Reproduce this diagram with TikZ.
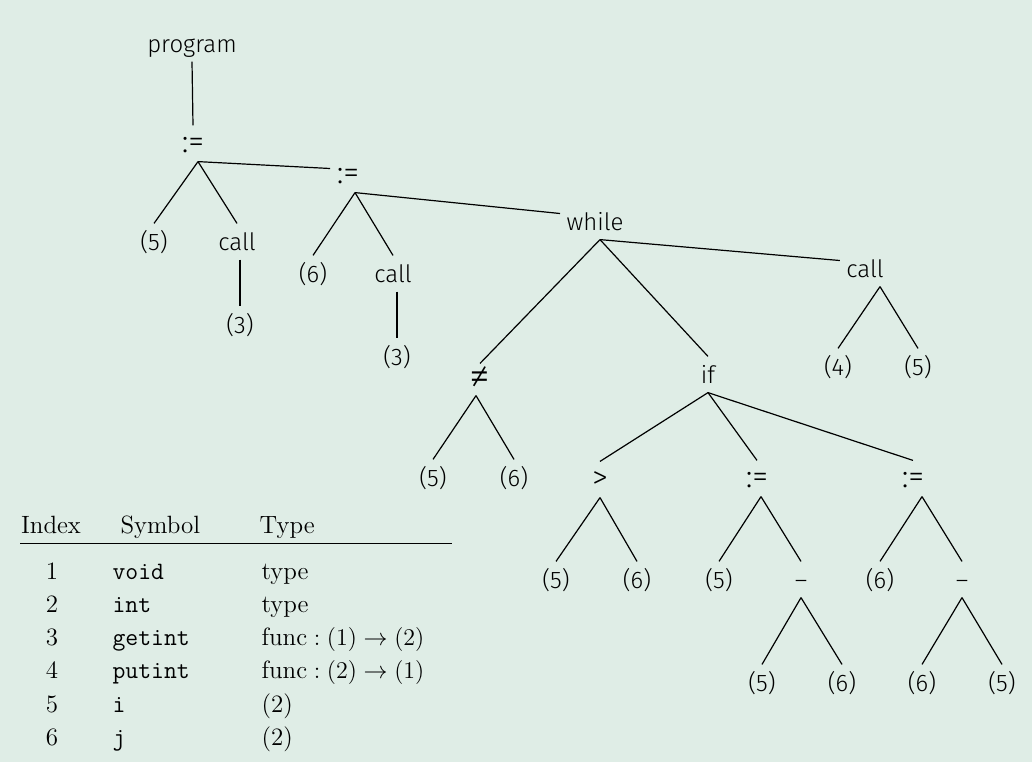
\documentclass[tikz,border=0pt]{standalone}
\usepackage{fontspec}
\newfontfamily\treefont{Fira Sans Light}
\definecolor{panel}{RGB}{223,237,230}

\begin{document}
\begin{tikzpicture}[x=0.5pt,y=-0.5pt,
    line width=0.6pt,
    every node/.append style={anchor=base},
    tn/.style={font=\treefont\fontsize{12}{14}\selectfont,
        text height=10pt,text depth=1.5pt,inner sep=3pt},
    op/.style={tn,font=\treefont\fontsize{16}{18}\selectfont},
    tab/.style={font=\fontsize{12.5}{15}\selectfont,inner sep=0pt}]
    \fill[panel] (0,0) rectangle (1032,762);

    % syntax tree
    \node[tn] (prog) at (192,52) {program};
    \node[op] (asgA) at (193,152) {:=};
    \node[tn] (fiveA) at (154,250) {(5)};
    \node[tn] (callA) at (237,250) {call};
    \node[tn] (threeA) at (240,333) {(3)};
    \node[op] (asgB) at (348,183) {:=};
    \node[tn] (sixA) at (313,282) {(6)};
    \node[tn] (callB) at (393,282) {call};
    \node[tn] (threeB) at (397,365) {(3)};
    \node[tn] (loop) at (595,230) {while};
    \node[op,font=\treefont\fontsize{21}{23}\selectfont] (neq) at (480,390) {≠};
    \node[tn] (fiveC) at (433,486) {(5)};
    \node[tn] (sixC) at (514,486) {(6)};
    \node[tn] (cond) at (708,383) {if};
    \node[op] (gt) at (600,488) {>};
    \node[tn] (fiveD) at (556,588) {(5)};
    \node[tn] (sixD) at (637,588) {(6)};
    \node[op] (asgM) at (757,487) {:=};
    \node[tn] (fiveE) at (719,588) {(5)};
    \node[tn] (subM) at (801,588) {\textendash};
    \node[tn] (fiveF) at (762,691) {(5)};
    \node[tn] (sixF) at (842,691) {(6)};
    \node[op] (asgR) at (913,487) {:=};
    \node[tn] (sixE) at (880,588) {(6)};
    \node[tn] (subR) at (962,588) {\textendash};
    \node[tn] (sixG) at (922,691) {(6)};
    \node[tn] (fiveG) at (1002,691) {(5)};
    \node[tn] (callR) at (865,277) {call};
    \node[tn] (four) at (838,375) {(4)};
    \node[tn] (fiveB) at (918,375) {(5)};

    % branch points
    \coordinate (asgA-b) at ([xshift=2.5pt]asgA.south);
    \coordinate (asgB-b) at ([xshift=3.5pt]asgB.south);
    \coordinate (loop-b) at ([xshift=2.5pt]loop.south);
    \coordinate (callR-b) at ([xshift=7.5pt]callR.south);
    \coordinate (neq-b) at ([xshift=-2pt,yshift=2pt]neq.south);
    \coordinate (asgM-b) at ([xshift=2pt]asgM.south);
    \coordinate (asgR-b) at ([xshift=4.5pt]asgR.south);

    \draw (prog.south) -- (asgA.north);
    \draw (asgA-b) -- (fiveA.north);
    \draw (asgA-b) -- (callA.north);
    \draw (threeA.north |- callA.south) -- (threeA.north);
    \draw (asgB-b) -- (sixA.north);
    \draw (asgB-b) -- (callB.north);
    \draw (threeB.north |- callB.south) -- (threeB.north);
    \draw (loop-b) -- (neq.north);
    \draw (loop-b) -- (cond.north);
    \draw (neq-b) -- (fiveC.north);
    \draw (neq-b) -- (sixC.north);
    \draw (cond.south) -- (gt.north);
    \draw (cond.south) -- (asgM.north);
    \draw (cond.south) -- (asgR.north);
    \draw (gt.south) -- (fiveD.north);
    \draw (gt.south) -- (sixD.north);
    \draw (asgM-b) -- (fiveE.north);
    \draw (asgM-b) -- (subM.north);
    \draw (subM.south) -- (fiveF.north);
    \draw (subM.south) -- (sixF.north);
    \draw (asgR-b) -- (sixE.north);
    \draw (asgR-b) -- (subR.north);
    \draw (subR.south) -- (sixG.north);
    \draw (subR.south) -- (fiveG.north);
    \draw (callR-b) -- (four.north);
    \draw (callR-b) -- (fiveB.north);
    % statement sequence
    \draw (asgA-b) -- ([yshift=3pt]asgB.west);
    \draw (asgB-b) -- ([yshift=4pt]loop.west);
    \draw (loop-b) -- ([yshift=4pt]callR.west);

    % symbol table
    \node[tab] (hIndex) at (51,533) {Index};
    \node[tab,anchor=base west] (hSym) at (120,533) {Symbol};
    \node[tab,anchor=base west] (hType) at (259,533) {Type};
    \draw[line width=0.5pt] (20,543) -- (452,543);
    \foreach \i/\nm/\ty in {1/void/type, 2/int/type,
        3/getint/{$\mathrm{func}:(1)\rightarrow(2)$},
        4/putint/{$\mathrm{func}:(2)\rightarrow(1)$},
        5/i/{(2)}, 6/j/{(2)}}{
        \node[tab] (idx\i) at (52,{545.7+33.3*\i}) {\i};
        \node[tab,anchor=base west] (sym\i) at (112,{545.7+33.3*\i}) {\texttt{\nm}};
        \node[tab,anchor=base west] (typ\i) at (261,{545.7+33.3*\i}) {\ty};
    }
\end{tikzpicture}
\end{document}
